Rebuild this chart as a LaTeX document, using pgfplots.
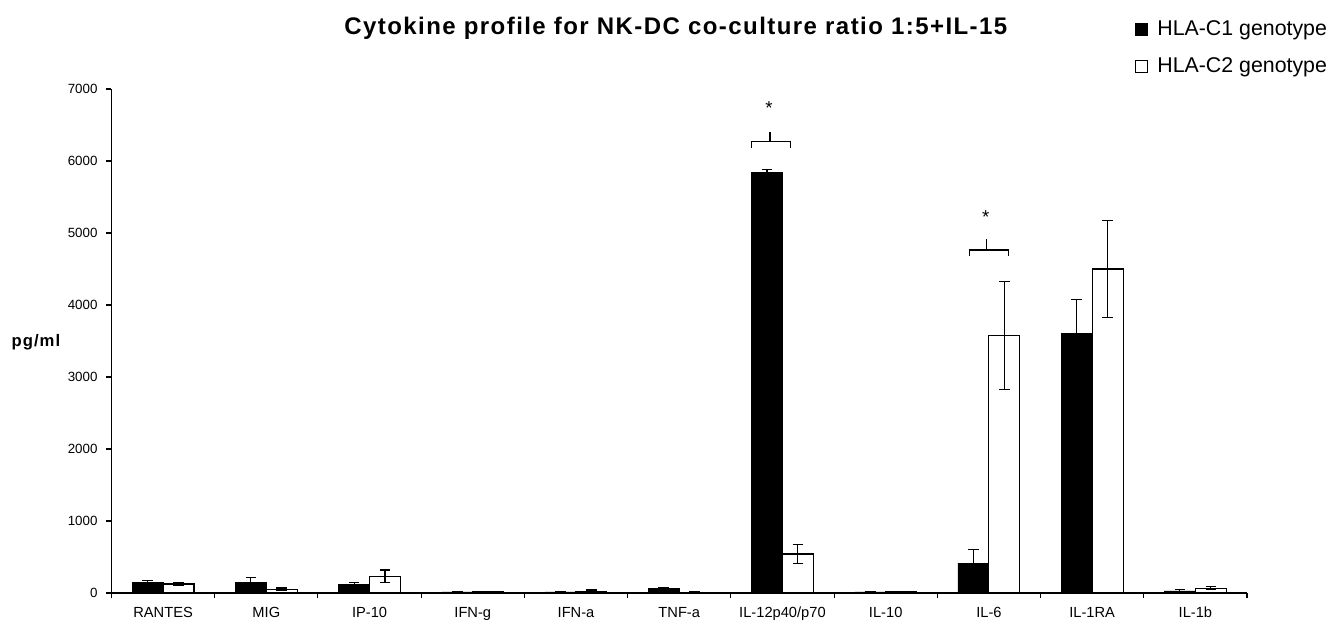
\documentclass[border=0pt]{standalone}
\usepackage{fontspec}
\setmainfont{Liberation Sans}
\usepackage{pgfplots}
\pgfplotsset{compat=1.18}
\pgfplotstableread{
x   c1    e1   c2    e2
0.5 150   25   125   20
1.5 150   60   50    20
2.5 125   25   235   85
3.5 15    0    15    0
4.5 15    5    22    20
5.5 69    5    12    10
6.5 5847  30   542   130
7.5 15    0    15    0
8.5 415   195  3580  750
9.5 3611  472  4500  670
10.5 30   20   65    20
}\datatable
\begin{document}
\begin{tikzpicture}
\begin{axis}[
  at={(0,0)}, anchor=south west,
  scale only axis, width=851.6pt, height=378pt,
  xmin=0, xmax=11, ymin=0, ymax=7000,
  axis x line*=bottom, axis y line*=left,
  axis line style={-, line width=0.9pt},
  ytick={0,1000,...,7000},
  xtick={0.5,1.5,...,10.5},
  xticklabels={RANTES,MIG,IP-10,IFN-g,IFN-a,TNF-a,IL-12p40/p70,IL-10,IL-6,IL-1RA,IL-1b},
  minor xtick={0,1,...,11},
  major x tick style={draw=none},
  minor tick length=4pt, major tick length=4pt,
  tick align=outside,
  tick style={line width=0.8pt, black},
  yticklabel style={font=\fontsize{10}{12}\selectfont, xshift=-3pt},
  xticklabel style={font=\fontsize{11}{13}\selectfont, yshift=-3pt},
  /pgf/number format/assume math mode=true,
  /pgf/number format/set thousands separator={},
  ybar, bar width=23.2pt,
  clip=false,
  legend style={at={(0.901,1.141)}, anchor=north west, draw=none, fill=none,
    font=\fontsize{16}{19}\selectfont, row sep=11pt, inner sep=0pt},
  legend cell align=left,
  legend image code/.code={\draw[#1, line width=0.8pt] (0pt,-4.5pt) rectangle (9pt,4.5pt);
    \path[draw=none, fill=none] (9pt,0) -- (14.5pt,0);},
]
\addplot[fill=black, draw=black, bar shift=-11.6pt,
  error bars/.cd, y dir=both, y explicit,
  error bar style={line width=0.8pt, black},
  error mark options={rotate=90, mark size=4pt, line width=0.8pt, black}]
  table[x=x, y=c1, y error=e1] {\datatable};
\addplot[fill=white, draw=black, line width=0.8pt, bar shift=11.6pt,
  error bars/.cd, y dir=both, y explicit,
  error bar style={line width=0.8pt, black},
  error mark options={rotate=90, mark size=4pt, line width=0.8pt, black}]
  table[x=x, y=c2, y error=e2] {\datatable};
\legend{HLA-C1 genotype, HLA-C2 genotype}
% significance brackets
\draw[line width=0.9pt] (axis cs:6.2,6180) -- (axis cs:6.2,6275) -- (axis cs:6.575,6275) -- (axis cs:6.575,6180);
\draw[line width=0.9pt] (axis cs:6.38,6275) -- (axis cs:6.38,6403);
\node[font=\fontsize{14}{16}\selectfont] at (axis cs:6.37,6740) {*};
\draw[line width=0.9pt] (axis cs:8.31,4680) -- (axis cs:8.31,4764) -- (axis cs:8.69,4764) -- (axis cs:8.69,4680);
\draw[line width=0.9pt] (axis cs:8.48,4764) -- (axis cs:8.48,4917);
\node[font=\fontsize{14}{16}\selectfont] at (axis cs:8.47,5225) {*};
% title and y label
\node[font=\bfseries\fontsize{18}{21}\selectfont\addfontfeature{LetterSpace=6}] at (axis description cs:0.497,1.121) {Cytokine profile for NK-DC co-culture ratio 1:5+IL-15};
\node[font=\bfseries\fontsize{12.5}{14}\selectfont\addfontfeature{LetterSpace=6}] at (axis description cs:-0.0665,0.498) {pg/ml};
\end{axis}
\pgfresetboundingbox
\path (-83.6pt,-23.25pt) rectangle (922.1pt,444.75pt);
\end{tikzpicture}
\end{document}
